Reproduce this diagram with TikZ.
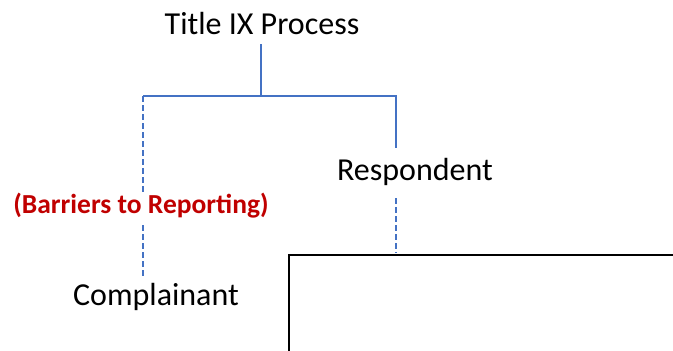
\documentclass[tikz,border=0pt]{standalone}
\usepackage{fontspec}
\setmainfont{Carlito}
\definecolor{lineblue}{RGB}{68,114,196}
\definecolor{barred}{RGB}{192,0,0}
\begin{document}
\begin{tikzpicture}[x=1pt,y=-1pt,
  lbl/.style={inner sep=0pt, font=\fontsize{32}{38}\selectfont},
  redlbl/.style={inner sep=0pt, text=barred, font=\fontsize{27.5}{33}\selectfont\bfseries},
  solidlink/.style={draw=lineblue, line width=2.2pt},
  dashlink/.style={draw=lineblue, line width=2.2pt, dash pattern=on 6pt off 3pt}]
\useasboundingbox (0,0) rectangle (673,351);
\node[lbl] (title) at (262,24) {Title IX Process};
\node[lbl] (resp) at (415,172) {Respondent};
\node[lbl] (comp) at (156,297) {Complainant};
\node[redlbl] (bar) at (141,206) {(Barriers to Reporting)};
\coordinate (top) at (261,44);
\coordinate (mid) at (261,96);
\coordinate (lj) at (143,96);
\coordinate (rj) at (396,96);
\coordinate (rend) at (396,148);
\coordinate (l1) at (143,193);
\coordinate (l2) at (143,225);
\coordinate (l3) at (143,278);
\coordinate (r2) at (396,198);
\coordinate (r3) at (396,253);
\draw[solidlink] (top) -- (mid);
\draw[solidlink] (lj) -- (rj) -- (rend);
\draw[dashlink] (lj) -- (l1);
\draw[dashlink] (l2) -- (l3);
\draw[dashlink] (r2) -- (r3);
\draw[line width=1.3pt] (289,360) -- (289,255) -- (680,255);
\end{tikzpicture}
\end{document}
